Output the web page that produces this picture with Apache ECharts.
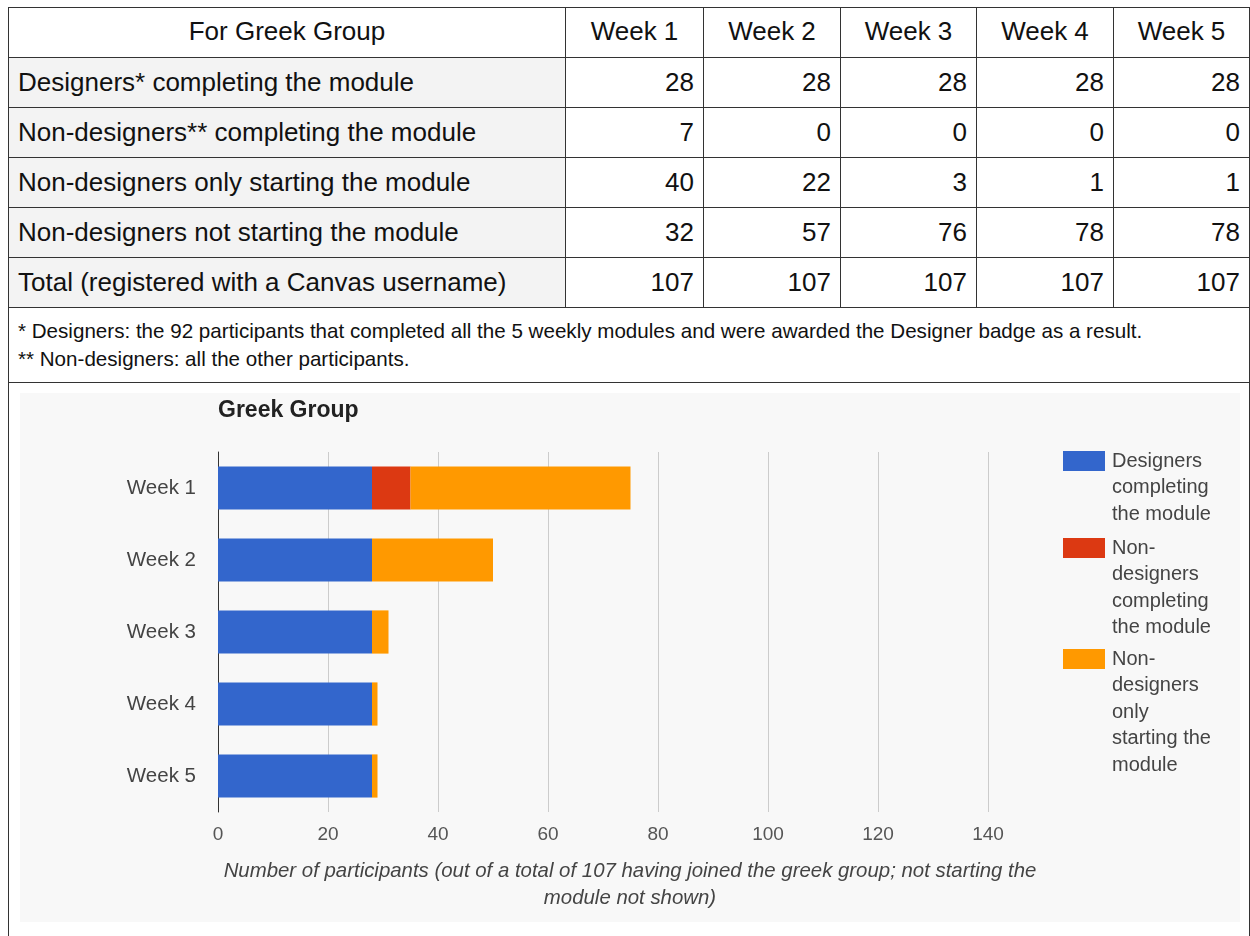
<!DOCTYPE html>
<html>
<head>
<meta charset="utf-8">
<script src="https://cdn.jsdelivr.net/npm/echarts@6/dist/echarts.min.js"></script>
<style>
  body { margin: 0; background: #fff; font-family: "Liberation Sans", Arial, sans-serif; }
  #sheet { position: absolute; left: 8px; top: 7px; width: 1241px; border-collapse: collapse; table-layout: fixed; }
  #sheet td { border: 1.5px solid #333; font-size: 26px; color: #111; padding: 0 9px; height: 49px; white-space: nowrap; overflow: hidden; }
  #sheet td.head { text-align: center; background: #fff; height: 46px; padding-bottom: 3px; }
  #sheet td.label { text-align: left; background: #f3f3f3; }
  #sheet td.num { text-align: right; background: #fff; }
  #sheet td.note { font-size: 20.6px; line-height: 28px; height: 74px; padding: 0 9px; }
  #sheet td.chartcell { height: 600px; }
  #chart { position: absolute; left: 20px; top: 393px; width: 1220px; height: 529px; }
</style>
</head>
<body>
<table id="sheet">
  <colgroup>
    <col style="width:557px"><col style="width:138px"><col style="width:137px">
    <col style="width:136px"><col style="width:137px"><col style="width:136px">
  </colgroup>
  <tbody id="rows"></tbody>
</table>
<div id="chart"></div>
<script>
// table / chart data
const weeks = ['Week 1', 'Week 2', 'Week 3', 'Week 4', 'Week 5'];
const designersDone = [28, 28, 28, 28, 28];
const nonDesignersDone = [7, 0, 0, 0, 0];
const nonDesignersStarted = [40, 22, 3, 1, 1];
const nonDesignersNotStarted = [32, 57, 76, 78, 78];
const totals = [107, 107, 107, 107, 107];

const rowLabels = [
  'Designers* completing the module',
  'Non-designers** completing the module',
  'Non-designers only starting the module',
  'Non-designers not starting the module',
  'Total (registered with a Canvas username)'
];
const notes = [
  '* Designers: the 92 participants that completed all the 5 weekly modules and were awarded the Designer badge as a result.',
  '** Non-designers: all the other participants.'
];

const seriesNames = [
  'Designers completing the module',
  'Non-designers completing the module',
  'Non-designers only starting the module'
];
// how the legend wraps each name
const legendLines = [
  ['Designers', 'completing', 'the module'],
  ['Non-', 'designers', 'completing', 'the module'],
  ['Non-', 'designers', 'only', 'starting the', 'module']
];
const colors = ['#3366cc', '#dc3912', '#ff9900'];

// build the table
const tbody = document.getElementById('rows');
let html = '<tr><td class="head">For Greek Group</td>';
weeks.forEach(w => { html += '<td class="head">' + w + '</td>'; });
html += '</tr>';
[designersDone, nonDesignersDone, nonDesignersStarted, nonDesignersNotStarted, totals].forEach((vals, i) => {
  html += '<tr><td class="label">' + rowLabels[i] + '</td>';
  vals.forEach(v => { html += '<td class="num">' + v + '</td>'; });
  html += '</tr>';
});
html += '<tr><td class="note" colspan="6">' + notes.join('<br>') + '</td></tr>';
html += '<tr><td class="chartcell" colspan="6"></td></tr>';
tbody.innerHTML = html;

// chart
const chart = echarts.init(document.getElementById('chart'));
const LH = 26.5;
const legendCenters = [68, 155, 266];

// each legend entry gets its own component; blank lines above the text
// keep the first text line level with the colour box
const legends = seriesNames.map((name, i) => {
  const n = legendLines[i].length;
  return {
    orient: 'vertical',
    left: 1043,
    top: legendCenters[i] - (2 * n - 1) * LH / 2,
    padding: 0,
    itemGap: 0,
    icon: 'rect',
    itemWidth: 42,
    itemHeight: 20,
    selectedMode: false,
    data: [name],
    formatter: () => '\n'.repeat(n - 1) + legendLines[i].join('\n'),
    textStyle: { fontSize: 20, color: '#444', lineHeight: LH, padding: [0, 0, 0, 2] }
  };
});

chart.setOption({
  backgroundColor: '#f8f8f8',
  animation: false,
  textStyle: { fontFamily: '"Liberation Sans", Arial, sans-serif' },
  title: {
    text: 'Greek Group',
    left: 198,
    top: 6,
    padding: 0,
    textStyle: { fontSize: 23, fontWeight: 'bold', color: '#222' }
  },
  legend: legends,
  grid: { left: 198, top: 59, width: 770, height: 360, containLabel: false },
  xAxis: {
    type: 'value',
    min: 0,
    max: 140,
    interval: 20,
    axisLine: { show: false },
    axisTick: { show: false },
    axisLabel: { fontSize: 19, color: '#555', margin: 13 },
    splitLine: { lineStyle: { color: '#cccccc', width: 1 } },
    name: 'Number of participants (out of a total of 107 having joined the greek group; not starting the\nmodule not shown)',
    nameLocation: 'middle',
    nameGap: 46,
    nameTextStyle: { fontSize: 20.4, fontStyle: 'italic', color: '#444', lineHeight: 27, padding: [0, 0, 0, 54] }
  },
  yAxis: {
    type: 'category',
    inverse: true,
    data: weeks,
    axisLine: { show: true, lineStyle: { color: '#333', width: 1 } },
    axisTick: { show: false },
    axisLabel: { fontSize: 20.5, color: '#444', margin: 22 }
  },
  series: [designersDone, nonDesignersDone, nonDesignersStarted].map((vals, i) => ({
    name: seriesNames[i],
    type: 'bar',
    stack: 'total',
    barWidth: '60%',
    itemStyle: { color: colors[i] },
    data: vals
  }))
});
</script>
</body>
</html>
